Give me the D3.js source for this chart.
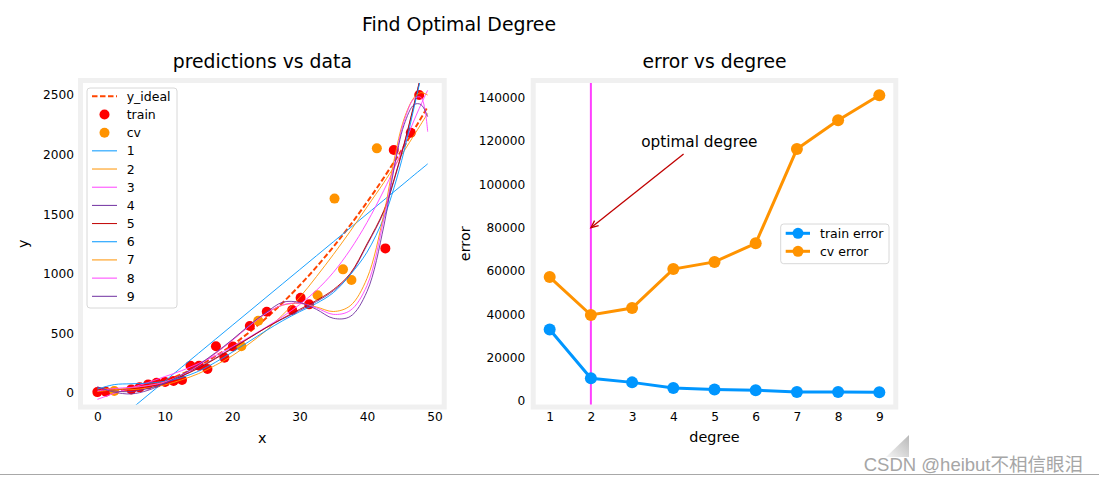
<!DOCTYPE html>
<html><head><meta charset="utf-8">
<script src="https://cdn.jsdelivr.net/npm/d3@7"></script>
<style>
html,body{margin:0;padding:0;background:#fff;}
svg{display:block;font-family:"DejaVu Sans",sans-serif;}
</style></head>
<body><svg id="chart" width="1099" height="484"></svg>
<script>
// ---------- data ----------
const xTrain = [0, 1.26, 5.03, 6.28, 7.54, 8.79, 10.05, 11.31, 12.56, 13.82, 15.08, 16.33, 17.59, 18.85, 20.1, 22.62, 25.13, 28.9, 30.15, 31.41, 42.72, 43.97, 46.49, 47.74];
const yTrain = [5, 8, 28, 45, 70, 84, 90, 98, 107, 227, 227, 199, 390, 294, 388, 560, 680, 694, 798, 742, 1212, 2038, 2183, 2500];
const xCv = [2.51, 21.36, 23.87, 32.67, 35.18, 36.44, 37.69, 41.46];
const yCv = [15, 390, 605, 818, 1630, 1036, 946, 2052];
const xIdeal = [0, 5, 10, 15, 20, 25, 30, 35, 40, 45, 49];
const yIdeal = [0, 25, 100, 225, 400, 625, 900, 1225, 1600, 2025, 2401];
const gridX = [0, 2.5, 5, 7.5, 10, 12.5, 15, 17.5, 20, 22.5, 25, 27.5, 30, 32.5, 35, 37.5, 40, 42.5, 44, 45.5, 47, 48, 49];
const pred1 = [-371, -254, -137, -20, 97, 214, 331, 448, 565, 682, 799, 916, 1033, 1150, 1267, 1384, 1501, 1618, 1688, 1758, 1829, 1875, 1922];
const pred2 = [40, 30, 25, 40, 65, 108, 160, 230, 310, 410, 520, 655, 800, 975, 1160, 1355, 1560, 1765, 1895, 2030, 2165, 2255, 2346];
const pred3 = [-56, -5, 40, 85, 135, 185, 245, 310, 385, 465, 550, 640, 740, 860, 1010, 1200, 1430, 1700, 1880, 2080, 2290, 2420, 2540];
const pred4 = [45, 15, 10, 35, 80, 140, 210, 290, 375, 460, 545, 620, 690, 765, 855, 990, 1240, 1520, 1780, 2080, 2420, 2660, 2900];
const pred5 = [20, 25, 35, 55, 90, 140, 205, 285, 370, 458, 545, 625, 700, 775, 865, 1000, 1250, 1530, 1790, 2090, 2430, 2670, 2920];
const pred6 = [30, 68, 75, 80, 95, 128, 180, 255, 340, 430, 520, 605, 680, 750, 840, 990, 1180, 1470, 1720, 2030, 2400, 2650, 2920];
const pred7 = [10, 25, 40, 60, 90, 150, 230, 330, 440, 560, 665, 735, 750, 720, 682, 730, 960, 1500, 1950, 2300, 2480, 2520, 2500];
const pred8 = [15, 35, 45, 60, 90, 148, 228, 328, 438, 558, 665, 738, 752, 712, 658, 690, 900, 1460, 1900, 2280, 2470, 2480, 2192];
const pred9 = [50, 5, -10, 20, 80, 150, 235, 335, 445, 565, 672, 760, 758, 700, 625, 640, 850, 1400, 1880, 2250, 2420, 2420, 2318];
const predLabels = ["1","2","3","4","5","6","7","8","9"];
const xTicksL = [0, 10, 20, 30, 40, 50];
const yTicksL = [0, 500, 1000, 1500, 2000, 2500];

const degrees = [1, 2, 3, 4, 5, 6, 7, 8, 9];
const trainErr = [33000, 10500, 8600, 6000, 5300, 5000, 4200, 4100, 4000];
const cvErr = [57200, 39700, 42900, 60900, 64200, 72800, 116300, 129600, 141100];
const yTicksR = [0, 20000, 40000, 60000, 80000, 100000, 120000, 140000];
const optimalDegree = 2;
const annotTip = [2, 80000];
const annotTail = [4.25, 114000];
const annotTextPos = [3.22, 120000];

// ---------- style ----------
const C = {blue:"#0096ff", orange:"#FF9300", magenta:"#FF40FF", purple:"#7030A0", darkred:"#C00000"};
const cycle = [C.blue, C.orange, C.magenta, C.purple, C.darkred];
const svg = d3.select("#chart");
const FONT = "DejaVu Sans";

// ---------- left axes ----------
const L = {x0:80.5, x1:444.2, y0:80.5, y1:407};
const xL = d3.scaleLinear().domain([-2.5, 51.45]).range([L.x0, L.x1]);
const yL = d3.scaleLinear().domain([-120, 2622]).range([L.y1, L.y0]);

svg.append("defs").append("clipPath").attr("id","clipL")
  .append("rect").attr("x",L.x0).attr("y",L.y0).attr("width",L.x1-L.x0).attr("height",L.y1-L.y0);

const gL = svg.append("g");
gL.append("rect").attr("x",L.x0).attr("y",L.y0).attr("width",L.x1-L.x0).attr("height",L.y1-L.y0).attr("fill","#fff");
const plotL = gL.append("g").attr("clip-path","url(#clipL)");

const lineIdeal = d3.line().x((d,i)=>xL(xIdeal[i])).y(d=>yL(d)).curve(d3.curveCatmullRom);
plotL.append("path").attr("d", lineIdeal(yIdeal)).attr("fill","none")
  .attr("stroke","orangered").attr("stroke-width",2).attr("stroke-dasharray","5.5,2.5");

plotL.selectAll(".tr").data(yTrain).join("circle")
  .attr("cx",(d,i)=>xL(xTrain[i])).attr("cy",d=>yL(d)).attr("r",5).attr("fill","red");
plotL.selectAll(".cv").data(yCv).join("circle")
  .attr("cx",(d,i)=>xL(xCv[i])).attr("cy",d=>yL(d)).attr("r",5).attr("fill",C.orange);

const preds = [pred1,pred2,pred3,pred4,pred5,pred6,pred7,pred8,pred9];
const linePred = d3.line().x((d,i)=>xL(gridX[i])).y(d=>yL(d)).curve(d3.curveCatmullRom.alpha(0.5));
preds.forEach((p,k)=>{
  plotL.append("path").attr("d", linePred(p)).attr("fill","none")
    .attr("stroke", cycle[k%5]).attr("stroke-width",0.9);
});

// frame
gL.append("rect").attr("x",L.x0).attr("y",L.y0).attr("width",L.x1-L.x0).attr("height",L.y1-L.y0)
  .attr("fill","none").attr("stroke","#f0f0f0").attr("stroke-width",5);

// axes
const axL = gL.append("g").attr("transform",`translate(${L.x0},0)`)
  .call(d3.axisLeft(yL).tickValues(yTicksL).tickSize(0).tickPadding(6.5).tickFormat(d3.format("d")));
const axB = gL.append("g").attr("transform",`translate(0,${L.y1})`)
  .call(d3.axisBottom(xL).tickValues(xTicksL).tickSize(0).tickPadding(5.3).tickFormat(d3.format("d")));
[axL, axB].forEach(a=>{a.select(".domain").remove(); a.selectAll("text").attr("font-size",12.2).attr("font-family",FONT).attr("fill","#000");});

// legend left
const legL = gL.append("g");
legL.append("rect").attr("x",87).attr("y",88).attr("width",90).attr("height",220).attr("rx",3)
  .attr("fill","#fff").attr("fill-opacity",0.8).attr("stroke","#d8d8d8").attr("stroke-width",1);
const legRowY = d3.scaleLinear().domain([0, 11]).range([96.3, 296.3]);
const legItems = [{t:"y_ideal", kind:"dash", c:"orangered"},{t:"train", kind:"dot", c:"red"},{t:"cv", kind:"dot", c:C.orange}]
  .concat(predLabels.map((t,k)=>({t, kind:"line", c:cycle[k%5]})));
legItems.forEach((it,i)=>{
  const y = legRowY(i);
  if(it.kind==="dash") legL.append("line").attr("x1",92).attr("x2",117).attr("y1",y).attr("y2",y)
    .attr("stroke",it.c).attr("stroke-width",2).attr("stroke-dasharray","5.5,2.5");
  else if(it.kind==="dot") legL.append("circle").attr("cx",104.5).attr("cy",y).attr("r",5).attr("fill",it.c);
  else legL.append("line").attr("x1",92).attr("x2",117).attr("y1",y).attr("y2",y).attr("stroke",it.c).attr("stroke-width",1);
  legL.append("text").attr("x",126.7).attr("y",y+4.5).attr("font-size",12.5).attr("font-family",FONT).text(it.t);
});

// titles left
svg.append("text").attr("x",(L.x0+L.x1)/2).attr("y",67.5).attr("text-anchor","middle")
  .attr("font-size",18.8).attr("font-family",FONT).text("predictions vs data");
svg.append("text").attr("x",(L.x0+L.x1)/2).attr("y",442.5).attr("text-anchor","middle")
  .attr("font-size",14.4).attr("font-family",FONT).text("x");
svg.append("text").attr("transform",`translate(28.3,${(L.y0+L.y1)/2}) rotate(-90)`).attr("text-anchor","middle")
  .attr("font-size",14.4).attr("font-family",FONT).text("y");

// ---------- right axes ----------
const R = {x0:533.2, x1:895.8, y0:80.5, y1:407};
const xR = d3.scaleLinear().domain([0.6, 9.4]).range([R.x0, R.x1]);
const yR = d3.scaleLinear().domain([-2770, 147940]).range([R.y1, R.y0]);
const gR = svg.append("g");
gR.append("rect").attr("x",R.x0).attr("y",R.y0).attr("width",R.x1-R.x0).attr("height",R.y1-R.y0).attr("fill","#fff");

gR.append("line").attr("x1",xR(optimalDegree)).attr("x2",xR(optimalDegree)).attr("y1",R.y0).attr("y2",R.y1)
  .attr("stroke",C.magenta).attr("stroke-width",2);

const lineR = d3.line().x((d,i)=>xR(degrees[i])).y(d=>yR(d));
[[trainErr, C.blue],[cvErr, C.orange]].forEach(([arr,col])=>{
  gR.append("path").attr("d",lineR(arr)).attr("fill","none").attr("stroke",col).attr("stroke-width",3);
  gR.append("g").selectAll("circle").data(arr).join("circle")
    .attr("cx",(d,i)=>xR(degrees[i])).attr("cy",d=>yR(d)).attr("r",6).attr("fill",col);
});

// annotation
const tip = [xR(annotTip[0]), yR(annotTip[1])];
const tail = [xR(annotTail[0]), yR(annotTail[1])];
gR.append("line").attr("x1",tail[0]).attr("y1",tail[1]).attr("x2",tip[0]).attr("y2",tip[1])
  .attr("stroke",C.darkred).attr("stroke-width",1.3);
const ang = Math.atan2(tail[1]-tip[1], tail[0]-tip[0]);
const hl = 8, ha = 0.42;
gR.append("path").attr("d",`M${tip[0]+hl*Math.cos(ang+ha)},${tip[1]+hl*Math.sin(ang+ha)}L${tip[0]},${tip[1]}L${tip[0]+hl*Math.cos(ang-ha)},${tip[1]+hl*Math.sin(ang-ha)}`)
  .attr("fill","none").attr("stroke",C.darkred).attr("stroke-width",1.3);
gR.append("text").attr("x",xR(annotTextPos[0])).attr("y",yR(annotTextPos[1])+5.5)
  .attr("font-size",15.3).attr("font-family",FONT).text("optimal degree");

gR.append("rect").attr("x",R.x0).attr("y",R.y0).attr("width",R.x1-R.x0).attr("height",R.y1-R.y0)
  .attr("fill","none").attr("stroke","#f0f0f0").attr("stroke-width",5);

const axRL = gR.append("g").attr("transform",`translate(${R.x0},0)`)
  .call(d3.axisLeft(yR).tickValues(yTicksR).tickSize(0).tickPadding(8).tickFormat(d3.format("d")));
const axRB = gR.append("g").attr("transform",`translate(0,${R.y1})`)
  .call(d3.axisBottom(xR).tickValues(degrees).tickSize(0).tickPadding(5.3).tickFormat(d3.format("d")));
[axRL, axRB].forEach(a=>{a.select(".domain").remove(); a.selectAll("text").attr("font-size",12.2).attr("font-family",FONT).attr("fill","#000");});

// legend right
const legR = gR.append("g");
legR.append("rect").attr("x",780.7).attr("y",224).attr("width",108.3).attr("height",39.7).attr("rx",3)
  .attr("fill","#fff").attr("fill-opacity",0.8).attr("stroke","#d8d8d8").attr("stroke-width",1);
[["train error", C.blue, 233.3],["cv error", C.orange, 251.3]].forEach(([t,c,y])=>{
  legR.append("line").attr("x1",785.7).attr("x2",810).attr("y1",y).attr("y2",y).attr("stroke",c).attr("stroke-width",3);
  legR.append("circle").attr("cx",798).attr("cy",y).attr("r",5.5).attr("fill",c);
  legR.append("text").attr("x",820).attr("y",y+4.5).attr("font-size",12.5).attr("font-family",FONT).text(t);
});

svg.append("text").attr("x",(R.x0+R.x1)/2).attr("y",67.5).attr("text-anchor","middle")
  .attr("font-size",18.8).attr("font-family",FONT).text("error vs degree");
svg.append("text").attr("x",(R.x0+R.x1)/2).attr("y",442).attr("text-anchor","middle")
  .attr("font-size",14.4).attr("font-family",FONT).text("degree");
svg.append("text").attr("transform",`translate(470,${(R.y0+R.y1)/2}) rotate(-90)`).attr("text-anchor","middle")
  .attr("font-size",14.4).attr("font-family",FONT).text("error");

// suptitle
svg.append("text").attr("x",459).attr("y",31).attr("text-anchor","middle")
  .attr("font-size",18.9).attr("font-family",FONT).text("Find Optimal Degree");

// page decorations (resize corner, bottom rule, watermark)
const grad = svg.select("defs").append("linearGradient").attr("id","cornerGrad")
  .attr("x1","0").attr("y1","1").attr("x2","1").attr("y2","0");
grad.append("stop").attr("offset","0").attr("stop-color","#f4f4f4");
grad.append("stop").attr("offset","1").attr("stop-color","#b8b8b8");
svg.append("path").attr("d","M886,457L909,435L909,457Z").attr("fill","url(#cornerGrad)");
svg.append("line").attr("x1",0).attr("x2",1099).attr("y1",474.5).attr("y2",474.5).attr("stroke","#a8a8a8").attr("stroke-width",1);
svg.append("text").attr("x",1083).attr("y",471).attr("text-anchor","end")
  .attr("font-size",18.5).attr("font-family","'Liberation Sans','Noto Sans CJK SC',sans-serif")
  .attr("fill","#a6a6a6").attr("stroke","#fff").attr("stroke-width",0.4).attr("paint-order","stroke")
  .text("CSDN @heibut不相信眼泪");
</script></body></html>
